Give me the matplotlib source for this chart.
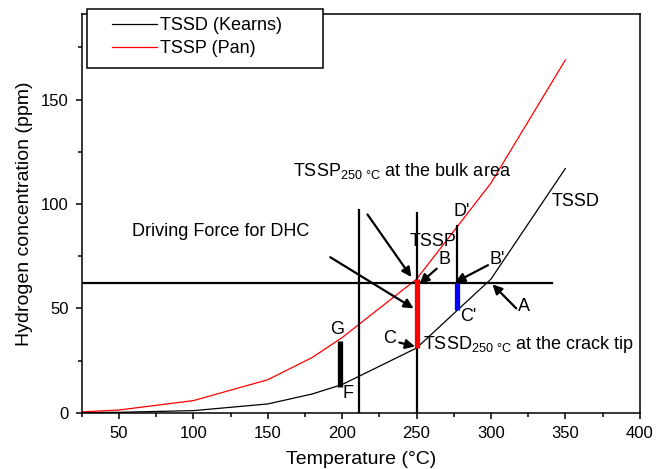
import numpy as np
import matplotlib.pyplot as plt
from matplotlib.ticker import MultipleLocator
from matplotlib.patches import Rectangle

plt.rcParams['font.family'] = ['Liberation Sans', 'DejaVu Sans']

# curve data
temp = [25, 50, 100, 150, 180, 200, 250, 300, 350]
tssd_kearns = [0.1, 0.2, 1.0, 4.2, 9.0, 13.5, 31.0, 64.0, 117.0]
tssp_pan = [0.4, 1.3, 5.8, 15.8, 26.5, 36.0, 64.0, 110.0, 169.0]

# construction lines
h_level = 62.3
h_span = [25, 341]
v_lines = [(211, 0, 97), (250, 0, 95.5), (277, 62.3, 89.5)]
# thick segments: (T, low, high, colour)
segments = [(250, 31.0, 64.0, 'red'), (277, 49.0, 62.3, 'blue'), (198.5, 12.5, 34.5, 'black')]

fig = plt.figure(figsize=(6.65, 4.69), dpi=100)
ax = fig.add_axes([0.123, 0.120, 0.839, 0.850])

ax.plot(temp, tssd_kearns, color='black', lw=0.9, label='TSSD (Kearns)')
ax.plot(temp, tssp_pan, color='red', lw=0.9, label='TSSP (Pan)')

ax.plot(h_span, [h_level, h_level], color='black', lw=1.6)
for x, y0, y1 in v_lines:
    ax.plot([x, x], [y0, y1], color='black', lw=1.6)
for x, y0, y1, c in segments:
    ax.plot([x, x], [y0, y1], color=c, lw=3.8, solid_capstyle='butt')

arr = dict(arrowstyle='-|>', color='black', lw=1.6, mutation_scale=14, shrinkA=0, shrinkB=0)
ax.annotate('', xy=(246.5, 65), xytext=(217, 95), arrowprops=arr)
ax.annotate('', xy=(248, 50), xytext=(192, 74.5), arrowprops=arr)
ax.annotate('', xy=(252, 61.8), xytext=(263.5, 69), arrowprops=arr)
ax.annotate('', xy=(276, 62.5), xytext=(298, 70.7), arrowprops=arr)
ax.annotate('', xy=(301, 61.5), xytext=(317, 50), arrowprops=arr)
ax.annotate('', xy=(249, 31.7), xytext=(238.5, 33.6), arrowprops=arr)

fs = 13
ax.text(167, 116, r'TSSP$_{\mathregular{250\ °C}}$ at the bulk area', fontsize=fs, va='center')
ax.text(59, 87, 'Driving Force for DHC', fontsize=fs, va='center')
ax.text(261, 82, 'TSSP', fontsize=fs, ha='center', va='center')
ax.text(280, 96.5, "D'", fontsize=fs, ha='center', va='center')
ax.text(269, 73.5, 'B', fontsize=fs, ha='center', va='center')
ax.text(304, 73.5, "B'", fontsize=fs, ha='center', va='center')
ax.text(322, 51, 'A', fontsize=fs, ha='center', va='center')
ax.text(285, 46, "C'", fontsize=fs, ha='center', va='center')
ax.text(232, 35.6, 'C', fontsize=fs, ha='center', va='center')
ax.text(254.5, 32.5, r'TSSD$_{\mathregular{250\ °C}}$ at the crack tip', fontsize=fs, va='center')
ax.text(196.5, 40, 'G', fontsize=fs, ha='center', va='center')
ax.text(204, 9, 'F', fontsize=fs, ha='center', va='center')
ax.text(357, 101, 'TSSD', fontsize=fs, ha='center', va='center')

ax.set_xlim(25, 400)
ax.set_ylim(0, 191)
ax.xaxis.set_major_locator(MultipleLocator(50))
ax.xaxis.set_minor_locator(MultipleLocator(25))
ax.yaxis.set_major_locator(MultipleLocator(50))
ax.yaxis.set_minor_locator(MultipleLocator(25))
ax.tick_params(which='major', direction='out', length=4.5, width=1.1, labelsize=12, pad=5)
ax.tick_params(which='minor', direction='out', length=3, width=1.1)
for s in ax.spines.values():
    s.set_linewidth(1.1)
ax.set_xlabel('Temperature (°C)', fontsize=14, labelpad=7)
ax.set_ylabel('Hydrogen concentration (ppm)', fontsize=14, labelpad=6)

# legend frame drawn separately so the padding matches
ax.add_patch(Rectangle((0.009, 0.8646), 0.423, 0.148, transform=ax.transAxes,
                       facecolor='white', edgecolor='black', lw=1.1, clip_on=False, zorder=4))
leg = ax.legend(loc='upper left', bbox_to_anchor=(0.0538, 0.9925), frameon=False,
                fontsize=13, handlelength=2.5, handletextpad=0.17,
                labelspacing=0.33, borderpad=0, borderaxespad=0)
leg.set_zorder(5)

fig.savefig('out.png', dpi=100)
